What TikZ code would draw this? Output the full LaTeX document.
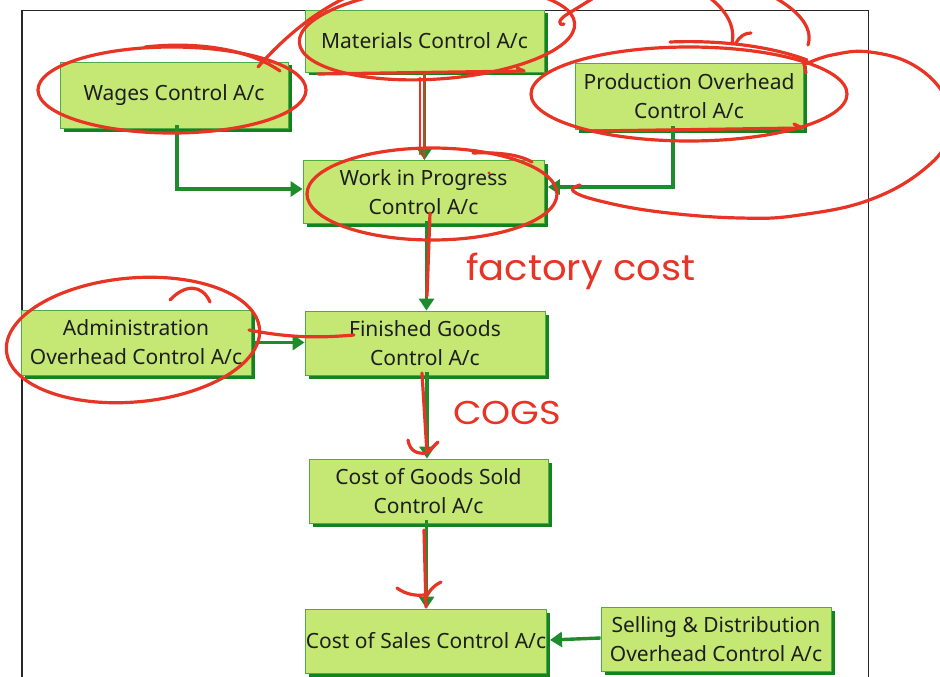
\documentclass[tikz,border=0pt]{standalone}
\usepackage{fontspec}
\newfontfamily\boxfont{Noto Sans}
\newfontfamily\handfont{Poppins}
\usetikzlibrary{arrows.meta,shadows}
\definecolor{boxgreen}{RGB}{197,232,116}
\definecolor{shgreen}{RGB}{20,130,30}
\definecolor{edgegreen}{RGB}{80,170,70}
\definecolor{arrgreen}{RGB}{30,140,45}
\definecolor{penred}{RGB}{232,52,36}
\definecolor{txt}{RGB}{30,30,30}
\definecolor{framegray}{RGB}{40,40,40}
\tikzset{
  acc/.style={draw=edgegreen, line width=0.8pt, fill=boxgreen, text=txt,
    font=\boxfont\fontsize{21}{29}\selectfont, align=center, inner sep=0pt,
    drop shadow={shadow xshift=3.5pt, shadow yshift=-3.5pt, fill=shgreen, opacity=1}},
  flow/.style={draw=arrgreen, line width=3.4pt, -{Triangle[length=12pt,width=15pt]}},
  frameline/.style={draw=framegray, line width=1.4pt},
  redpen/.style={draw=penred, line width=3.2pt, line cap=round, line join=round},
  hand/.style={text=penred, inner sep=0pt}
}
\begin{document}
\begin{tikzpicture}[x=1pt,y=-1pt]
\useasboundingbox (0,0) rectangle (940,677);
\clip (0,0) rectangle (940,677);
\fill[white] (0,0) rectangle (940,677);
% frame
\draw[frameline] (22,680) -- (22,10.5) -- (868.5,10.5) -- (868.5,680);
% boxes
\node[acc, minimum width=239pt, minimum height=62pt] (mat) at (424.5,41) {Materials Control A/c};
\node[acc, minimum width=228pt, minimum height=66pt] (wages) at (174,95) {Wages Control A/c};
\node[acc, minimum width=228pt, minimum height=66pt] (prod) at (689,96) {Production Overhead\\Control A/c};
\node[acc, minimum width=241pt, minimum height=63pt] (wip) at (423.5,192) {Work in Progress\\Control A/c};
\node[acc, minimum width=230pt, minimum height=65pt] (admin) at (136,342.5) {Administration\\Overhead Control A/c};
\node[acc, minimum width=240pt, minimum height=64pt] (fg) at (425,343) {Finished Goods\\Control A/c};
\node[acc, minimum width=239pt, minimum height=64pt] (cogs) at (428.5,491) {Cost of Goods Sold\\Control A/c};
\node[acc, minimum width=240pt, minimum height=64pt] (cos) at (426,641) {Cost of Sales Control A/c};
\node[acc, minimum width=230pt, minimum height=64pt] (sell) at (716,639) {Selling \& Distribution\\Overhead Control A/c};
% connectors
\draw[flow] (mat.south) -- (mat.south |- wip.north);
\draw[flow] ([xshift=3pt,yshift=3pt]wages.south) |- ([yshift=3pt]wip.west);
\draw[flow] ([xshift=-16pt,yshift=3pt]prod.south) |- ([xshift=3.5pt,yshift=5pt]wip.east);
\draw[flow] ([xshift=3pt,yshift=3pt]wip.south) -- ([xshift=3pt]wip.south |- fg.north);
\draw[flow] ([xshift=3pt]admin.east) -- (admin.east -| fg.west);
\draw[flow] ([xshift=2pt,yshift=3pt]fg.south) -- ([xshift=2pt]fg.south |- cogs.north);
\draw[flow] ([xshift=-2pt,yshift=3pt]cogs.south) -- ([xshift=-2pt]cogs.south |- cos.north);
\draw[flow] ([yshift=1pt]sell.west) -- ([xshift=3.5pt,yshift=1pt]cos.east);
% red annotations
% wages
\draw[redpen] (172,90) ellipse [x radius=134pt, y radius=43pt];
\draw[redpen] (145,47) .. controls (200,41) and (250,50) .. (280,71);
\draw[redpen] (258,67) .. controls (280,42) and (310,15) .. (345,-2);
% materials
\draw[redpen, rotate around={4:(437,33)}] (437,33) ellipse [x radius=138pt, y radius=46pt];
\draw[redpen] (318,74) -- (524,71) -- (517,68);
\draw[redpen] (600,-6) -- (566,15) .. controls (558,20) and (558,26) .. (564,24);
% top loops
\draw[redpen] (706,-5) .. controls (724,8) and (736,24) .. (732,44);
\draw[redpen] (736,43) .. controls (740,36) and (745,33) .. (751,33);
\draw[redpen] (770,-5) .. controls (795,8) and (814,26) .. (808,45);
% production
\draw[redpen] (689,94) ellipse [x radius=158pt, y radius=47pt];
\draw[redpen] (670,42) .. controls (720,40) and (770,46) .. (807,60);
\draw[redpen] (593,131) -- (802,128) -- (794,124);
\draw[redpen] (803,60) -- (806,73);
% big loop right
\draw[redpen] plot[smooth, tension=0.7] coordinates {(806,64) (832,55) (870,52) (915,66) (946,98) (950,132) (928,166) (872,199) (800,215) (740,218) (660,212) (600,201) (573,191) (580,185)};
% wip
\draw[redpen] (432,194) ellipse [x radius=125pt, y radius=46pt];
\draw[redpen] (473,153) .. controls (500,152) and (520,155) .. (532,162);
\fill[penred] (489,173) circle (1.6pt);
\draw[redpen, line width=2.4pt] (420,78) -- (420,154);
\draw[redpen, line width=2.4pt] (424,74) -- (424,158);
\draw[redpen] (430,213) -- (427,296);
\node[hand, anchor=west] (fc) at (466,271) {\scalebox{1.07}[1]{\handfont\fontsize{36}{36}\selectfont factory cost}};
% admin
\draw[redpen, rotate around={5:(133,340)}] (133,340) ellipse [x radius=127pt, y radius=62pt];
\draw[redpen] (170,300) .. controls (185,284) and (202,284) .. (210,302);
\draw[redpen] (249,330) .. controls (290,338) and (320,338) .. (354,335);
% fg -> cogs
\draw[redpen] (422,373) -- (427,453);
\draw[redpen] (408,440) .. controls (410,452) and (418,454) .. (426,453);
\draw[redpen] (438,442) -- (428,452);
\node[hand, anchor=west] (cg) at (453,413) {\scalebox{1.12}[1]{\handfont\fontsize{33}{33}\selectfont COGS}};
% cogs -> cos
\draw[redpen] (424,530) -- (426,607);
\draw[redpen] (397,588) .. controls (405,594) and (415,596) .. (424,595);
\draw[redpen] (441,582) .. controls (433,586) and (428,592) .. (425,600);
\end{tikzpicture}
\end{document}
